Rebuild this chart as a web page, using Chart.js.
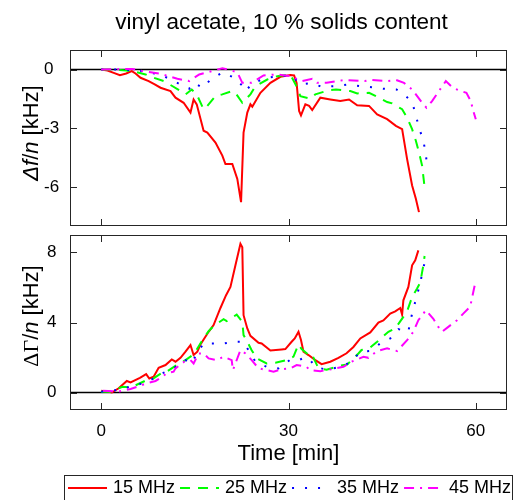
<!DOCTYPE html>
<html><head><meta charset="utf-8">
<script src="https://cdn.jsdelivr.net/npm/chart.js@4.4.1/dist/chart.umd.min.js"></script>
<style>
html,body{margin:0;padding:0;background:#fff;}
#wrap{position:relative;width:514px;height:500px;overflow:hidden;font-family:"Liberation Sans",Arial,sans-serif;}
canvas{position:absolute;left:0;}
.ytitle{position:absolute;white-space:nowrap;font-size:22px;line-height:22px;transform:translate(-50%,-50%) rotate(-90deg);color:#000;}
</style></head><body>
<div id="wrap">
<canvas id="topc" width="514" height="232" style="top:0"></canvas>
<canvas id="botc" width="514" height="268" style="top:232px"></canvas>
<div class="ytitle" style="left:31px;top:133px"><i>Δf</i>/<i>n</i> [kHz]</div>
<div class="ytitle" style="left:31px;top:316px"><span style="font-family:'Liberation Serif',serif">ΔΓ</span>/<i>n</i> [kHz]</div>
</div>
<script>
// ---- tick values ----
const xTickVals = [0, 30, 60];
const fTickVals = [-6, -3, 0];
const gTickVals = [0, 4, 8];
const seriesLabels = ['15 MHz', '25 MHz', '35 MHz', '45 MHz'];

// ---- top panel: Δf/n [kHz] ----
const f15_t = [0,1,2,3,4,4.9,5.5,6.3,7.6,8.5,9.5,11.1,11.9,13.2,14.3,14.8,15.3,16.4,17,18.3,19.4,19.9,21,21.8,22.4,22.8,23.4,23.9,24.2,25.5,27.1,28.7,30.3,30.9,31.3,31.7,32,32.7,33.3,33.8,35.1,36.7,38.3,39.7,41,42.9,44.2,45.8,47.2,48.2,49,49.8,50.4,50.9];
const f15   = [0,-0.05,-0.17,-0.29,-0.2,-0.08,-0.2,-0.42,-0.59,-0.75,-0.93,-1.1,-1.44,-1.7,-2.2,-1.53,-1.78,-3.13,-3.22,-3.73,-4.4,-4.83,-4.83,-5.59,-6.78,-3.22,-2.2,-1.78,-1.9,-1.19,-0.68,-0.37,-0.28,-0.3,-0.68,-2.12,-2.34,-1.78,-1.86,-2.07,-1.44,-1.53,-1.61,-1.53,-1.83,-1.86,-2.29,-2.54,-2.88,-3.05,-4.58,-5.93,-6.61,-7.29];
const f25_t = [0,2,4,5.5,7.1,7.9,10,10.8,12.7,13.5,14.5,15.3,16.4,17,18.3,19.4,21,21.5,22.6,23.9,24.7,26.6,28.2,30.3,31.4,31.9,33.5,34.3,36.5,37.6,39.9,41,42.9,44,45.8,46.6,48.2,49,49.8,50.4,50.9,51.4,51.8];
const f25   = [0,0,-0.05,-0.12,-0.25,-0.36,-0.59,-0.73,-1.1,-1.27,-1.02,-1.27,-2.03,-1.86,-1.36,-1.27,-1.1,-1.19,-1.7,-1.27,-0.85,-0.51,-0.34,-0.25,-0.93,-1.36,-1.49,-1.27,-1.05,-1.02,-1.1,-1.22,-1.19,-1.36,-1.66,-1.73,-2.03,-2.46,-3.05,-3.64,-4.24,-4.91,-6.02];
const f35_t = [0,3,6,7.9,9.5,11.1,12.5,14.1,14.8,16.3,17.5,19.4,21.2,22.7,23.1,24.3,26.6,28.7,30.5,31.9,33.5,35.4,37.5,39.6,41.5,43.3,45.2,47.3,48.9,49.8,50.4,50.9,51.6,52,52.2];
const f35   = [0,0,-0.05,-0.17,-0.25,-0.51,-0.73,-0.98,-0.68,-0.93,-0.51,-0.15,-0.4,-0.85,-1.1,-0.68,-0.42,-0.34,-0.3,-0.76,-0.7,-0.88,-0.85,-0.76,-0.85,-0.9,-0.98,-1.02,-1.39,-1.66,-2.34,-2.97,-3.64,-4.32,-4.97];
const f45_t = [0,3,5,7,9.5,12.2,14.1,15.7,17.5,19.4,20.7,21.8,22.6,24.1,26,28.2,30.3,32.2,33.8,34.6,36.1,37.9,39,42.2,43,45.8,47.2,48.5,49.8,50.4,51.4,52.1,53,54.1,55.2,56.3,57.6,58.5,59.2,59.6,60];
const f45   = [0,0.02,0.03,-0.1,-0.22,-0.47,-0.59,-0.25,-0.1,0.07,-0.03,-0.14,-0.68,-0.68,-0.3,-0.25,-0.34,-0.59,-0.47,-0.68,-0.68,-0.59,-0.53,-0.59,-0.53,-0.59,-0.53,-0.68,-1.02,-1.27,-1.7,-1.95,-1.61,-1.1,-0.59,-0.93,-1.1,-1.19,-1.61,-2.12,-2.54];

// ---- bottom panel: ΔΓ/n [kHz] ----
const g15_t = [0,1,1.7,2.8,4.1,4.7,6.2,7.2,7.7,8.4,9.2,10.3,11.3,11.9,12.7,13.5,14.3,14.8,15.4,15.9,17.2,18,19.1,20,20.7,21.5,22.3,22.6,22.8,23.4,23.9,25.2,25.7,27.1,28.9,29.5,30.5,31,31.6,32,32.4,33.2,34.3,35.3,36.7,38,39.3,40.4,41.5,43.1,44.4,45.2,46.3,47.1,47.9,48.2,48.4,49.2,49.8,50.3,50.8];
const g15   = [0.1,0.05,0,0.24,0.66,0.58,0.84,1.05,0.8,0.9,1.41,1.57,1.89,1.76,1.98,2.33,2.71,2.14,2.33,2.75,3.47,3.85,4.83,5.56,6.03,7.27,8.5,8.3,4.42,3.66,3.24,2.84,2.8,2.4,2.46,2.48,2.9,3.09,3.47,3.0,2.33,2.14,1.85,1.62,1.76,1.98,2.24,2.6,3.09,3.43,4.0,4.12,4.51,4.64,4.83,4.45,5.27,6.03,7.27,7.55,8.12];
const g25_t = [0,1.5,3.4,4.7,7,7.9,10,10.5,12.1,13.5,14.5,15.1,16.1,17.2,18,19.6,20.1,21.7,22.6,22.8,23.4,24.1,24.9,26.5,27.9,29.7,30.8,31.6,32.1,33.2,33.7,34.8,36.1,38.3,39.4,41.2,41.7,43.1,44.2,46,47.1,48.4,49,49.8,50.6,51.1,51.6,51.8];
const g25   = [0.05,0.05,0.33,0.28,0.66,0.7,1.19,1.19,1.57,1.85,2.1,2.33,2.93,3.5,3.8,4.19,4.08,4.45,4.04,3.28,2.9,2.42,1.95,1.66,1.7,1.85,2.05,2.75,2.48,2.16,2.22,1.38,1.3,1.53,1.6,2.23,2.43,2.57,2.9,3.47,3.66,4.32,4.64,5.46,5.94,6.28,7.27,7.8];
const g35_t = [0,1.9,4.1,5.7,7.5,9.4,11.6,13.5,14.5,15.3,16.4,18,19.6,21.2,22.8,23.9,24.7,26.5,28.4,30.2,31.3,32.3,33.2,34.3,36.1,38.3,40.1,41.5,43.1,44.9,46.3,47.6,49.2,49.5,50,50.6,51.1,51.6,52];
const g35   = [0.05,0.1,0.28,0.43,0.62,1.04,1.38,1.85,1.66,2.23,2.8,2.8,2.8,2.9,2.9,2.23,1.76,1.47,1.38,1.85,1.8,1.95,1.98,1.47,1.3,1.47,1.76,2.33,2.37,2.86,3.09,3.62,3.47,4.07,4.79,5.56,6.28,7.08,7.8];
const g45_t = [0.3,2.7,4.7,5.7,7.3,8.7,9.8,10.5,11.6,11.9,13.3,14.3,14.8,15.6,16.4,17.2,18.5,19.6,20.9,21.1,22.3,23.1,24.1,25.2,26.5,27.6,28.9,30.3,31.3,32.9,33.4,35.1,36.1,38.8,40.1,42,42.8,44.2,45.8,47.4,49,50,50.8,52,53.2,54,54.6,55.6,57,58,59.1,59.6,60];
const g45   = [0.1,0.05,0.2,0.32,0.53,0.66,0.9,1.1,1.19,1.38,1.76,1.85,1.66,2.23,2.23,1.95,1.85,2.05,1.85,1.28,2.42,2.23,1.85,1.38,1.28,1.19,1.33,1.38,1.57,1.47,1.28,1.22,1.28,1.47,1.76,2.04,1.98,2.37,2.52,2.37,2.99,3.47,4.13,4.7,4.21,3.75,3.47,3.75,4.13,4.51,4.9,5.74,6.41];

// ---- styles ----
const FONT = "'Liberation Sans', Arial, sans-serif";
const styles = [
  {color:'#ff0000', dash:[]},
  {color:'#00ff00', dash:[10,8]},
  {color:'#0000ff', dash:[2,11]},
  {color:'#ff00ff', dash:[10,6,2,6]}
];
const fSeries = [[f15_t,f15],[f25_t,f25],[f35_t,f35],[f45_t,f45]];
const gSeries = [[g15_t,g15],[g25_t,g25],[g35_t,g35],[g45_t,g45]];

function pts(t, v){ return t.map((x,i)=>({x:x, y:v[i]})); }
function makeDatasets(list){
  return list.map((s,i)=>({
    label: seriesLabels[i], data: pts(s[0], s[1]), showLine:true,
    borderColor: styles[i].color, backgroundColor: styles[i].color,
    borderDash: styles[i].dash, borderWidth: 2, pointRadius: 0, tension: 0
  })).reverse();
}
function noPad(s){ s.paddingTop = 0; s.paddingBottom = 0; s.paddingLeft = 0; s.paddingRight = 0; }

const framePlugin = {
  id:'frame',
  beforeDatasetsDraw(chart){
    const {ctx, chartArea:a, scales:{y}} = chart;
    const yy = y.getPixelForValue(0);
    ctx.save(); ctx.strokeStyle='#000'; ctx.lineWidth=1.5;
    ctx.beginPath(); ctx.moveTo(a.left, yy); ctx.lineTo(a.right, yy); ctx.stroke();
    ctx.restore();
  },
  afterDatasetsDraw(chart){
    const {ctx, chartArea:a, scales:{x,y}} = chart;
    const tv = chart.options.tickVals;
    ctx.save(); ctx.strokeStyle='#262626'; ctx.lineWidth=1; ctx.setLineDash([]);
    ctx.strokeRect(a.left+0.5, a.top+0.5, a.right-a.left-1, a.bottom-a.top-1);
    const L = 7;
    ctx.beginPath();
    xTickVals.forEach(v=>{
      const px = Math.round(x.getPixelForValue(v))+0.5;
      ctx.moveTo(px, a.top); ctx.lineTo(px, a.top+L);
      ctx.moveTo(px, a.bottom); ctx.lineTo(px, a.bottom-L);
    });
    tv.forEach(v=>{
      const py = Math.round(y.getPixelForValue(v))+0.5;
      ctx.moveTo(a.left, py); ctx.lineTo(a.left+L, py);
      ctx.moveTo(a.right, py); ctx.lineTo(a.right-L, py);
    });
    ctx.stroke(); ctx.restore();
  }
};

// shift the title box slightly left so it is centred like the original
const titleShift = {
  id:'titleShift',
  afterLayout(chart){
    const tb = chart.titleBlock;
    if (tb) { tb.left -= 14; tb.width += 14; }
  }
};

const legendPlugin = {
  id:'customLegend',
  afterDraw(chart){
    const ctx = chart.ctx;
    ctx.save();
    ctx.strokeStyle='#262626'; ctx.lineWidth=1; ctx.setLineDash([]);
    ctx.strokeRect(64.5, 243.5, 448, 40);
    ctx.font = '18px ' + FONT; ctx.textBaseline='middle'; ctx.textAlign='left';
    const yc = 256;
    let x = 68;
    seriesLabels.forEach((lab,i)=>{
      ctx.strokeStyle = styles[i].color; ctx.lineWidth = 2; ctx.setLineDash(styles[i].dash);
      ctx.beginPath(); ctx.moveTo(x, yc); ctx.lineTo(x+39, yc); ctx.stroke();
      ctx.setLineDash([]);
      x += 45;
      ctx.fillStyle = '#000'; ctx.fillText(lab, x, yc);
      x += ctx.measureText(lab).width + 5;
    });
    ctx.restore();
  }
};

const tickFont = {family: FONT, size: 17};

new Chart(document.getElementById('topc'), {
  type:'scatter',
  data:{datasets: makeDatasets(fSeries)},
  options:{
    responsive:false, animation:false, tickVals: fTickVals,
    layout:{padding:{left:44, right:7, top:0, bottom:6}},
    plugins:{
      legend:{display:false}, tooltip:{enabled:false},
      title:{display:true, text:'vinyl acetate, 10 % solids content', fullSize:false, color:'#000',
             font:{family:FONT, size:22.5, weight:'normal'}, padding:{top:9, bottom:14}}
    },
    scales:{
      x:{type:'linear', min:-5, max:65, display:false, afterFit: noPad},
      y:{type:'linear', min:-8, max:1,
         afterFit: s=>{ s.width = 26; noPad(s); },
         afterBuildTicks: s=>{ s.ticks = fTickVals.map(v=>({value:v})); },
         grid:{display:false}, border:{display:false},
         ticks:{crossAlign:'far', color:'#000', font:tickFont, padding:0}}
    }
  },
  plugins:[framePlugin, titleShift]
});

new Chart(document.getElementById('botc'), {
  type:'scatter',
  data:{datasets: makeDatasets(gSeries)},
  options:{
    responsive:false, animation:false, tickVals: gTickVals,
    layout:{padding:{left:47, right:7, top:3, bottom:32.8}},
    plugins:{legend:{display:false}, tooltip:{enabled:false}},
    scales:{
      x:{type:'linear', min:-5, max:65,
         afterFit: s=>{ s.height = 57.2; noPad(s); },
         afterBuildTicks: s=>{ s.ticks = xTickVals.map(v=>({value:v})); },
         grid:{display:false}, border:{display:false},
         ticks:{color:'#000', font:tickFont, padding:3, maxRotation:0},
         title:{display:true, text:'Time [min]', color:'#000', font:{family:FONT, size:22}, padding:{top:0, bottom:0}}},
      y:{type:'linear', min:-1, max:9,
         afterFit: s=>{ s.width = 23; noPad(s); },
         afterBuildTicks: s=>{ s.ticks = gTickVals.map(v=>({value:v})); },
         grid:{display:false}, border:{display:false},
         ticks:{crossAlign:'far', color:'#000', font:tickFont, padding:0}}
    }
  },
  plugins:[framePlugin, legendPlugin]
});
</script>
</body></html>
